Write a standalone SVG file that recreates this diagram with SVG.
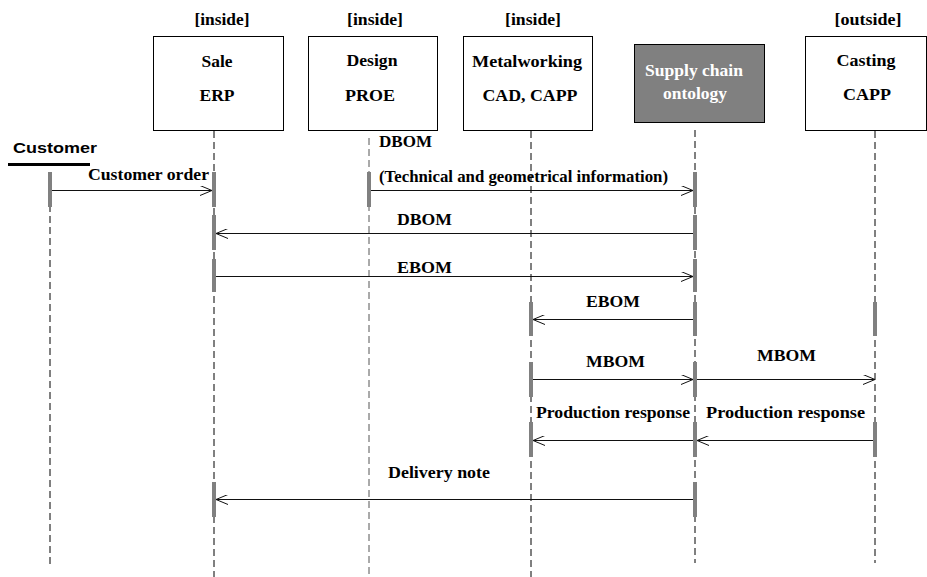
<svg xmlns="http://www.w3.org/2000/svg" width="927" height="577" viewBox="0 0 927 577">
<style>
.t{font-family:"Liberation Serif","Times New Roman",serif;font-weight:bold;font-size:17px;fill:#000}
.w{fill:#fff}
.box{fill:#fff;stroke:#000;stroke-width:1}
.life{stroke:#000;stroke-width:1;stroke-dasharray:7 4;fill:none}
.bar{fill:#808080}
.msg{stroke:#111;stroke-width:1;fill:none;marker-end:url(#arr)}
</style>
<defs>
<marker id="arr" viewBox="0 0 12 10" refX="12" refY="5" markerWidth="12" markerHeight="10" markerUnits="userSpaceOnUse" orient="auto">
<path d="M0,0 L12,5 L0,10" fill="none" stroke="#111" stroke-width="1"/>
</marker>
</defs>
<rect width="927" height="577" fill="#fff"/>

<g id="customer">
<text x="13" y="153" style="font-family:'Liberation Sans',Arial,sans-serif;font-weight:bold;font-size:15px" textLength="84" lengthAdjust="spacingAndGlyphs">Customer</text>
<line x1="8" y1="164.5" x2="90" y2="164.5" stroke="#000" stroke-width="3"/>
<line class="life" x1="50" y1="172" x2="50" y2="567"/>
<rect class="bar" x="48" y="172" width="4" height="35"/>
</g>

<g id="sale">
<text class="t" x="222" y="25" text-anchor="middle" textLength="55" lengthAdjust="spacingAndGlyphs">[inside]</text>
<rect class="box" x="153.5" y="36.5" width="130" height="94"/>
<text class="t" x="217" y="67" text-anchor="middle" textLength="31" lengthAdjust="spacingAndGlyphs">Sale</text>
<text class="t" x="217" y="101" text-anchor="middle" textLength="35" lengthAdjust="spacingAndGlyphs">ERP</text>
<line class="life" x1="214" y1="131" x2="214" y2="577"/>
<rect class="bar" x="212" y="172" width="4" height="35"/>
<rect class="bar" x="212" y="215" width="4" height="35"/>
<rect class="bar" x="212" y="259" width="4" height="33"/>
<rect class="bar" x="212" y="482" width="4" height="35"/>
</g>

<g id="design">
<text class="t" x="375" y="25" text-anchor="middle" textLength="56" lengthAdjust="spacingAndGlyphs">[inside]</text>
<rect class="box" x="308.5" y="36.5" width="129" height="94"/>
<text class="t" x="372" y="66" text-anchor="middle" textLength="51" lengthAdjust="spacingAndGlyphs">Design</text>
<text class="t" x="370" y="101" text-anchor="middle" textLength="50" lengthAdjust="spacingAndGlyphs">PROE</text>
<line class="life" x1="369" y1="138" x2="369" y2="577" style="stroke:#555"/>
<rect class="bar" x="367" y="172" width="4" height="35"/>
</g>

<g id="metalworking">
<text class="t" x="533" y="25" text-anchor="middle" textLength="56" lengthAdjust="spacingAndGlyphs">[inside]</text>
<rect class="box" x="463.5" y="36.5" width="129" height="94"/>
<text class="t" x="527" y="67" text-anchor="middle" textLength="110" lengthAdjust="spacingAndGlyphs">Metalworking</text>
<text class="t" x="530" y="101" text-anchor="middle" textLength="95" lengthAdjust="spacingAndGlyphs">CAD, CAPP</text>
<line class="life" x1="531" y1="131" x2="531" y2="577"/>
<rect class="bar" x="529" y="302" width="4" height="34"/>
<rect class="bar" x="529" y="362" width="4" height="35"/>
<rect class="bar" x="529" y="422" width="4" height="35"/>
</g>

<g id="ontology">
<rect x="634.5" y="44.5" width="130" height="78" fill="#808080" stroke="#000" stroke-width="1"/>
<text class="t w" x="694" y="76" text-anchor="middle" textLength="98" lengthAdjust="spacingAndGlyphs">Supply chain</text>
<text class="t w" x="695" y="99" text-anchor="middle" textLength="64" lengthAdjust="spacingAndGlyphs">ontology</text>
<line class="life" x1="695" y1="130" x2="695" y2="563"/>
<rect class="bar" x="693" y="172" width="4" height="35"/>
<rect class="bar" x="693" y="215" width="4" height="35"/>
<rect class="bar" x="693" y="259" width="4" height="33"/>
<rect class="bar" x="693" y="302" width="4" height="34"/>
<rect class="bar" x="693" y="362" width="4" height="35"/>
<rect class="bar" x="693" y="422" width="4" height="35"/>
<rect class="bar" x="693" y="482" width="4" height="35"/>
</g>

<g id="casting">
<text class="t" x="868" y="25" text-anchor="middle" textLength="67" lengthAdjust="spacingAndGlyphs">[outside]</text>
<rect class="box" x="805.5" y="36.5" width="121" height="94"/>
<text class="t" x="866" y="66" text-anchor="middle" textLength="59" lengthAdjust="spacingAndGlyphs">Casting</text>
<text class="t" x="867" y="100" text-anchor="middle" textLength="48" lengthAdjust="spacingAndGlyphs">CAPP</text>
<line class="life" x1="875" y1="131" x2="875" y2="563"/>
<rect class="bar" x="873" y="302" width="4" height="34"/>
<rect class="bar" x="873" y="422" width="4" height="35"/>
</g>

<g id="connectors">
<line class="msg" x1="52" y1="190.5" x2="212" y2="190.5"/>
<text class="t" x="88" y="180" textLength="121" lengthAdjust="spacingAndGlyphs">Customer order</text>

<line class="msg" x1="371" y1="190.5" x2="693" y2="190.5"/>
<text class="t" x="379" y="147" textLength="53" lengthAdjust="spacingAndGlyphs">DBOM</text>
<text class="t" x="379" y="182" textLength="289" lengthAdjust="spacingAndGlyphs">(Technical and geometrical information)</text>

<line class="msg" x1="693" y1="233.5" x2="216" y2="233.5"/>
<text class="t" x="397" y="225" textLength="55" lengthAdjust="spacingAndGlyphs">DBOM</text>

<line class="msg" x1="216" y1="276.5" x2="693" y2="276.5"/>
<text class="t" x="397" y="273" textLength="55" lengthAdjust="spacingAndGlyphs">EBOM</text>

<line class="msg" x1="693" y1="319.5" x2="533" y2="319.5"/>
<text class="t" x="586" y="307" textLength="54" lengthAdjust="spacingAndGlyphs">EBOM</text>

<line class="msg" x1="533" y1="379.5" x2="693" y2="379.5"/>
<text class="t" x="586" y="367" textLength="59" lengthAdjust="spacingAndGlyphs">MBOM</text>

<line class="msg" x1="697" y1="379.5" x2="875" y2="379.5"/>
<text class="t" x="757" y="361" textLength="59" lengthAdjust="spacingAndGlyphs">MBOM</text>

<line class="msg" x1="693" y1="440.5" x2="533" y2="440.5"/>
<text class="t" x="536" y="418" textLength="154" lengthAdjust="spacingAndGlyphs">Production response</text>

<line class="msg" x1="873" y1="440.5" x2="697" y2="440.5"/>
<text class="t" x="706" y="418" textLength="159" lengthAdjust="spacingAndGlyphs">Production  response</text>

<line class="msg" x1="693" y1="499.5" x2="216" y2="499.5"/>
<text class="t" x="388" y="478" textLength="102" lengthAdjust="spacingAndGlyphs">Delivery note</text>
</g>
</svg>
